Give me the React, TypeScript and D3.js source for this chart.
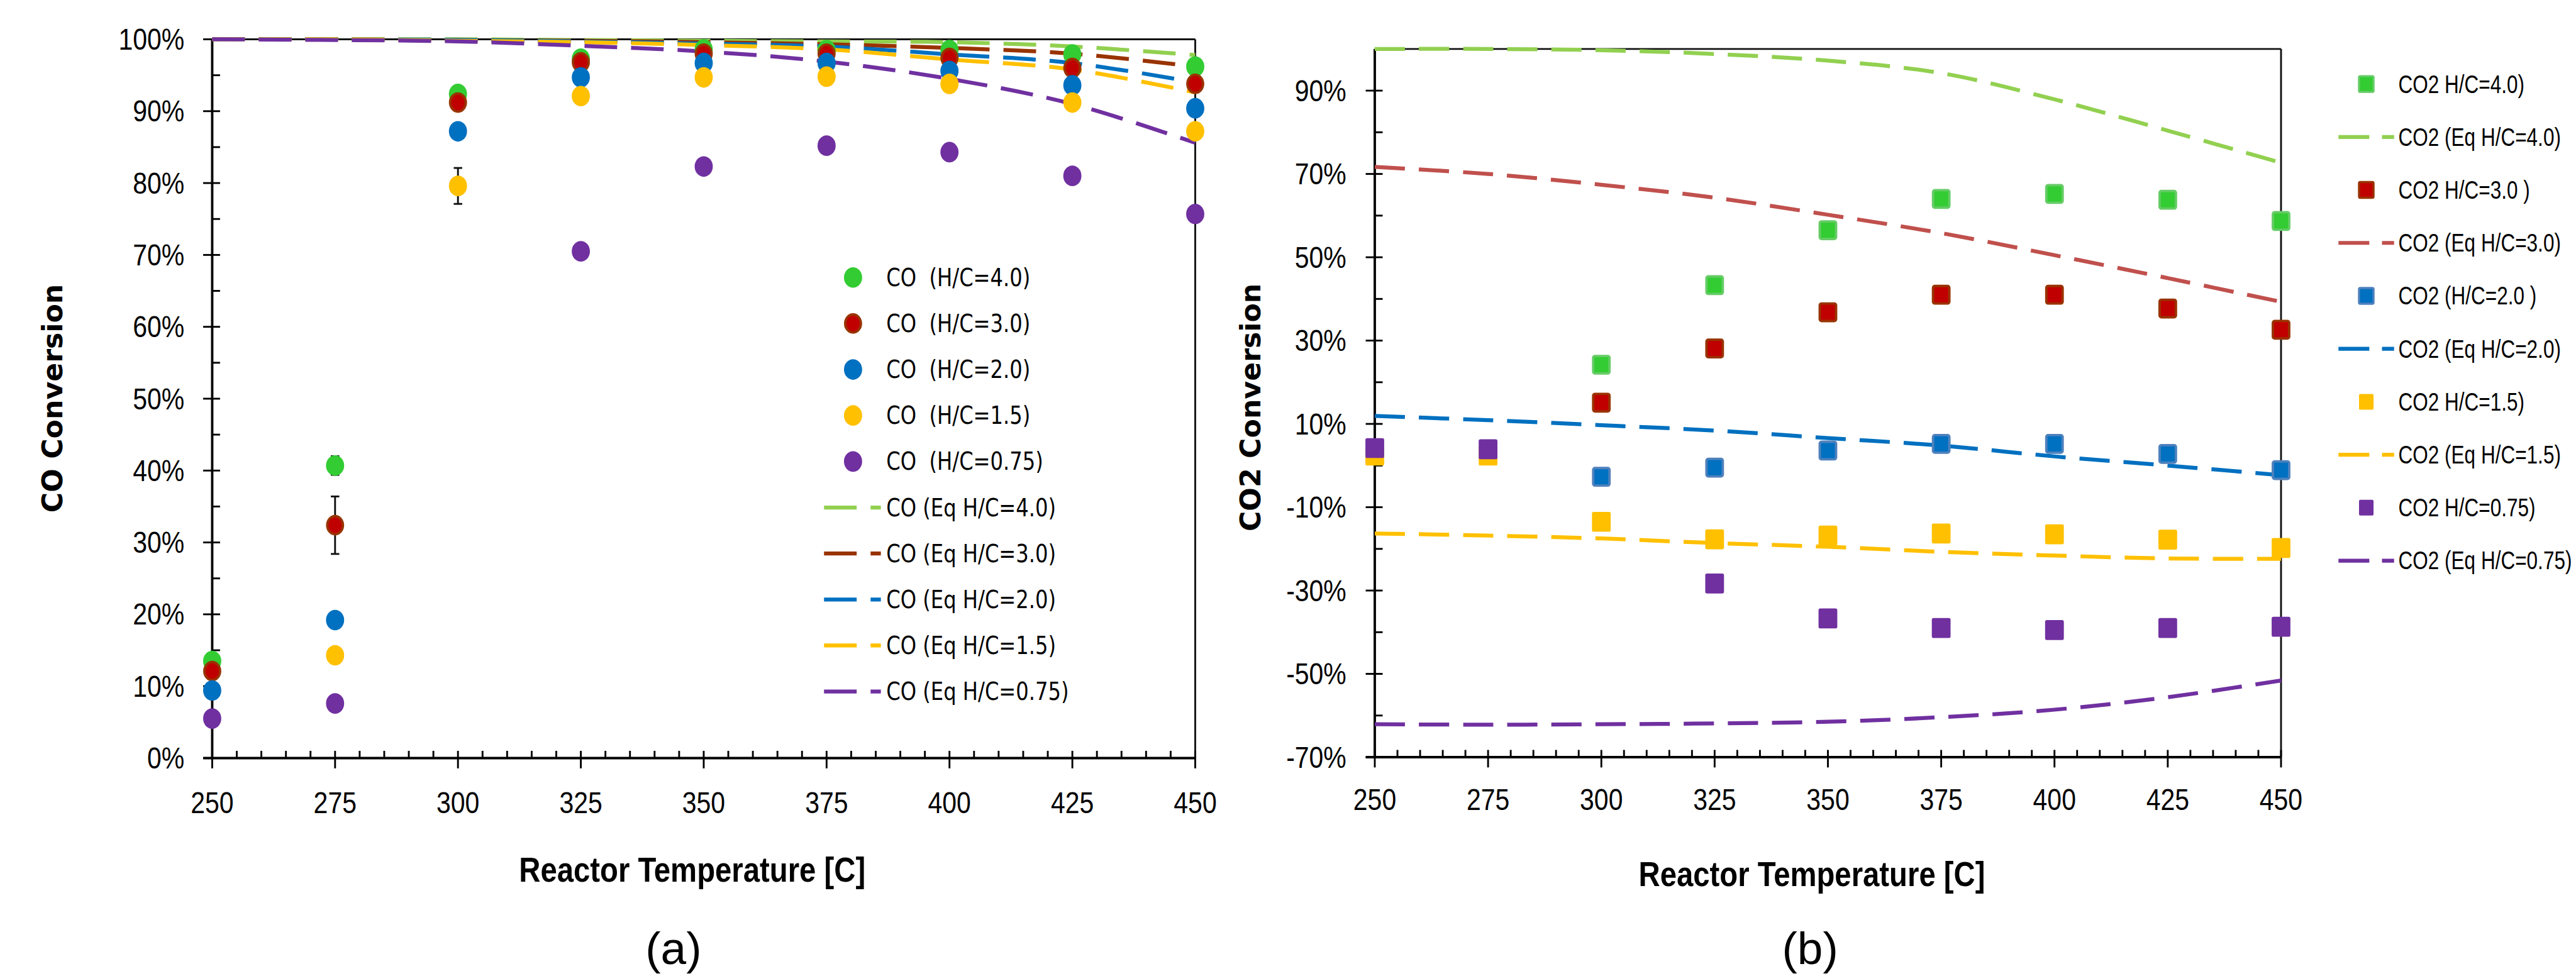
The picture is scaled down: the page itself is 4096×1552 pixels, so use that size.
import React from "react";
import * as d3 from "d3";

// reactor temperatures (x axis, both panels)
const temps = [250, 275, 300, 325, 350, 375, 400, 425, 450];

// (a) CO conversion, measured [%]
const coHC40 = [13.5, 40.7, 92.4, 97.3, 98.6, 98.5, 98.5, 97.9, 96.2];
const coHC30 = [12.1, 32.4, 91.2, 96.8, 98.0, 98.0, 97.4, 96.0, 93.8];
const coHC20 = [9.4, 19.2, 87.2, 94.7, 96.7, 96.7, 95.6, 93.6, 90.4];
const coHC15 = [null, 14.3, 79.6, 92.1, 94.7, 94.8, 93.8, 91.2, 87.2];
const coHC075 = [5.5, 7.6, null, 70.5, 82.3, 85.2, 84.3, 81.0, 75.7];

// error bars (+/-) for the measured CO points
const coErr40 = [0, 1.3, 0, 0.4, 0, 0, 0, 0, 0];
const coErr30 = [0, 4.0, 0, 0, 0, 0, 0, 0, 0];
const coErr20 = [0, 0, 0, 0, 0, 0, 0, 0, 0];
const coErr15 = [0, 0, 2.5, 0, 0, 0, 0, 0, 0];
const coErr075 = [0, 0, 0, 0.9, 0, 0, 0, 0, 0];

// (a) CO conversion, equilibrium [%]
const coEq40 = [100, 100, 100, 99.9, 99.8, 99.7, 99.6, 99.0, 97.8];
const coEq30 = [100, 100, 99.9, 99.8, 99.6, 99.3, 98.8, 98.0, 96.2];
const coEq20 = [100, 100, 99.9, 99.7, 99.4, 99.0, 97.9, 96.7, 94.0];
const coEq15 = [100, 100, 99.8, 99.6, 99.2, 98.6, 97.2, 95.8, 92.6];
const coEq075 = [100, 99.9, 99.7, 99.1, 98.3, 96.9, 94.5, 91.0, 85.6];

// (b) CO2 conversion, measured [%]
const co2HC40 = [null, null, 24.2, 43.3, 56.5, 64.0, 65.2, 63.8, 58.7];
const co2HC30 = [null, null, 15.1, 28.1, 36.8, 41.0, 41.0, 37.7, 32.6];
const co2HC20 = [null, null, -2.7, -0.5, 3.6, 5.2, 5.2, 2.8, -1.1];
const co2HC15 = [2.4, 2.4, -13.5, -17.7, -16.8, -16.3, -16.5, -17.8, -19.8];
const co2HC075 = [4.2, 3.9, null, -28.3, -36.7, -39.0, -39.5, -39.0, -38.7];

// (b) CO2 conversion, equilibrium [%]
const co2Eq40 = [100, 100, 99.7, 98.8, 97.2, 94.2, 87.9, 80.4, 72.7];
const co2Eq30 = [71.7, 70.0, 67.4, 64.3, 60.2, 55.8, 50.5, 45.0, 39.3];
const co2Eq20 = [11.9, 10.9, 9.7, 8.4, 6.6, 4.8, 2.2, 0.0, -2.3];
const co2Eq15 = [-16.3, -16.8, -17.5, -18.6, -19.5, -20.7, -21.6, -22.3, -22.4];
const co2Eq075 = [-62.1, -62.2, -62.1, -61.9, -61.5, -60.4, -58.6, -55.6, -51.6];

const coLabels = ["CO  (H/C=4.0)", "CO  (H/C=3.0)", "CO  (H/C=2.0)", "CO  (H/C=1.5)", "CO  (H/C=0.75)"];
const coEqLabels = ["CO (Eq H/C=4.0)", "CO (Eq H/C=3.0)", "CO (Eq H/C=2.0)", "CO (Eq H/C=1.5)", "CO (Eq H/C=0.75)"];
const co2Labels = ["CO2 H/C=4.0)", "CO2 H/C=3.0 )", "CO2 (H/C=2.0 )", "CO2 H/C=1.5)", "CO2 H/C=0.75)"];
const co2EqLabels = ["CO2 (Eq H/C=4.0)", "CO2 (Eq H/C=3.0)", "CO2 (Eq H/C=2.0)", "CO2 (Eq H/C=1.5)", "CO2 (Eq H/C=0.75)"];

const S = 0.9613; // everything below is laid out in reference pixels
// no narrow font installed: squeeze Liberation Sans horizontally instead
const SANS = "'Liberation Sans', Arial, sans-serif";
const NX = 0.82;
const WIDE = "'DejaVu Sans', Verdana, sans-serif";
const EQW = 6.5;

const markFill = ["#33CC33", "#C00000", "#0070C0", "#FFC000", "#7030A0"];
const markStrokeA = [null, "#993300", null, null, null];
const markStrokeB = ["#66CC66", "#993300", "#4F81BD", null, null];
const eqColA = ["#92D050", "#993300", "#0070C0", "#FFC000", "#7030A0"];
const eqColB = ["#92D050", "#C0504D", "#0070C0", "#FFC000", "#7030A0"];

const Txt = ({ x, y, size, family, weight = "normal", anchor = "middle", sx = 1, sy = 1, rot = 0, children }: any) => (
  <text
    transform={`translate(${x},${y}) rotate(${rot}) scale(${sx},${sy})`}
    fontSize={size}
    fontFamily={family}
    fontWeight={weight}
    textAnchor={anchor}
    dominantBaseline="central"
    fill="#000"
    style={{ whiteSpace: "pre" }}
  >
    {children}
  </text>
);

const Axes = ({ x, y, yMajor, yMinor, xMajor, xMinor, labelRight, xLabelY }: any) => {
  const [x0, x1] = x.range();
  const [yb, yt] = y.range();
  return (
    <g>
      <line x1={x0} x2={x1} y1={yt} y2={yt} stroke="#111" strokeWidth={3} />
      <line x1={x1} x2={x1} y1={yt} y2={yb} stroke="#111" strokeWidth={3} />
      <line x1={x0} x2={x0} y1={yt} y2={yb + 2} stroke="#000" strokeWidth={4} />
      <line x1={x0 - 15} x2={x1} y1={yb} y2={yb} stroke="#000" strokeWidth={4} />
      {yMajor.map((v: number) => (
        <g key={"ym" + v}>
          <line x1={x0 - 15} x2={x0 + 13} y1={y(v)} y2={y(v)} stroke="#000" strokeWidth={3} />
          <Txt x={labelRight} y={y(v)} size={52} family={SANS} anchor="end" sx={NX} sy={0.95}>{`${v}%`}</Txt>
        </g>
      ))}
      {yMinor.map((v: number) => (
        <line key={"yn" + v} x1={x0} x2={x0 + 13} y1={y(v)} y2={y(v)} stroke="#000" strokeWidth={3} />
      ))}
      {xMajor.map((v: number) => (
        <g key={"xm" + v}>
          <line x1={x(v)} x2={x(v)} y1={yb - 12} y2={yb + 17} stroke="#000" strokeWidth={3} />
          <Txt x={x(v)} y={xLabelY} size={52} family={SANS} sx={NX} sy={0.95}>{v}</Txt>
        </g>
      ))}
      {xMinor.map((v: number) => (
        <line key={"xn" + v} x1={x(v)} x2={x(v)} y1={yb - 12} y2={yb} stroke="#000" strokeWidth={3} />
      ))}
    </g>
  );
};

const eqPath = (x: any, y: any, vals: number[]) =>
  d3
    .line<number>()
    .x((_, i) => x(temps[i]))
    .y((d) => y(d))
    .curve(d3.curveCatmullRom.alpha(0.5))(vals) || "";

const PanelA = () => {
  const x = d3.scaleLinear().domain([250, 450]).range([351, 1977]);
  const y = d3.scaleLinear().domain([0, 100]).range([1254, 65]);
  const pts = [coHC40, coHC30, coHC20, coHC15, coHC075];
  const errs = [coErr40, coErr30, coErr20, coErr15, coErr075];
  const eqs = [coEq40, coEq30, coEq20, coEq15, coEq075];
  const legY = d3.range(10).map((i) => 459 + i * 76.1);
  return (
    <g>
      <Axes
        x={x}
        y={y}
        yMajor={d3.range(0, 101, 10)}
        yMinor={d3.range(5, 100, 10)}
        xMajor={temps}
        xMinor={d3.range(250, 451, 5).filter((t) => t % 25 !== 0)}
        labelRight={305}
        xLabelY={1328}
      />
      {eqs.map((vals, k) => (
        <path key={"eq" + k} d={eqPath(x, y, vals)} fill="none" stroke={eqColA[k]} strokeWidth={EQW} strokeDasharray="54 23" />
      ))}
      {errs.map((e, k) =>
        e.map((d, i) =>
          d > 0 && pts[k][i] != null ? (
            <g key={`er${k}-${i}`} stroke="#111" strokeWidth={3}>
              <line x1={x(temps[i])} x2={x(temps[i])} y1={y(pts[k][i]! + d)} y2={y(pts[k][i]! - d)} />
              <line x1={x(temps[i]) - 7} x2={x(temps[i]) + 7} y1={y(pts[k][i]! + d)} y2={y(pts[k][i]! + d)} />
              <line x1={x(temps[i]) - 7} x2={x(temps[i]) + 7} y1={y(pts[k][i]! - d)} y2={y(pts[k][i]! - d)} />
            </g>
          ) : null
        )
      )}
      {pts.map((vals, k) =>
        vals.map((v, i) =>
          v == null ? null : (
            <ellipse
              key={`p${k}-${i}`}
              cx={x(temps[i])}
              cy={y(v)}
              rx={markStrokeA[k] ? 13 : 15}
              ry={markStrokeA[k] ? 15 : 17}
              fill={markFill[k]}
              stroke={markStrokeA[k] || "none"}
              strokeWidth={4}
            />
          )
        )
      )}
      {coLabels.map((lab, k) => (
        <g key={"lg" + k}>
          <ellipse cx={1411} cy={legY[k]} rx={markStrokeA[k] ? 13 : 15} ry={markStrokeA[k] ? 15 : 17} fill={markFill[k]} stroke={markStrokeA[k] || "none"} strokeWidth={4} />
          <Txt x={1466} y={legY[k]} size={33.5} family={WIDE} anchor="start" sy={1.2}>{lab}</Txt>
        </g>
      ))}
      {coEqLabels.map((lab, k) => (
        <g key={"le" + k}>
          <line x1={1363} x2={1457} y1={legY[k + 5]} y2={legY[k + 5]} stroke={eqColA[k]} strokeWidth={EQW} strokeDasharray="54 23" />
          <Txt x={1466} y={legY[k + 5]} size={33.5} family={WIDE} anchor="start" sy={1.2}>{lab}</Txt>
        </g>
      ))}
      <Txt x={87} y={659} size={46} family={WIDE} weight="bold" rot={-90}>CO Conversion</Txt>
      <Txt x={1145} y={1439} size={60} family={SANS} weight="bold" sx={NX} sy={0.95}>Reactor Temperature [C]</Txt>
      <Txt x={1114} y={1568} size={76} family={SANS}>(a)</Txt>
    </g>
  );
};

const PanelB = () => {
  const x = d3.scaleLinear().domain([250, 450]).range([2274, 3773]);
  const y = d3.scaleLinear().domain([-70, 100]).range([1252.5, 81]);
  const pts = [co2HC40, co2HC30, co2HC20, co2HC15, co2HC075];
  const eqs = [co2Eq40, co2Eq30, co2Eq20, co2Eq15, co2Eq075];
  const legY = d3.range(10).map((i) => 139 + i * 87.6);
  return (
    <g>
      <Axes
        x={x}
        y={y}
        yMajor={d3.range(-70, 91, 20)}
        yMinor={d3.range(-60, 81, 20)}
        xMajor={temps}
        xMinor={d3.range(250, 451, 5).filter((t) => t % 25 !== 0)}
        labelRight={2227}
        xLabelY={1323}
      />
      {eqs.map((vals, k) => (
        <path key={"eq" + k} d={eqPath(x, y, vals)} fill="none" stroke={eqColB[k]} strokeWidth={EQW} strokeDasharray="50 23" />
      ))}
      {pts.map((vals, k) =>
        vals.map((v, i) =>
          v == null ? null : (
            <rect
              key={`s${k}-${i}`}
              x={x(temps[i]) - (markStrokeB[k] ? 13.5 : 15.5)}
              y={y(v) - (markStrokeB[k] ? 14.5 : 16.5)}
              width={markStrokeB[k] ? 27 : 31}
              height={markStrokeB[k] ? 29 : 33}
              rx={3}
              fill={markFill[k]}
              stroke={markStrokeB[k] || "none"}
              strokeWidth={4}
            />
          )
        )
      )}
      {co2Labels.map((lab, k) => (
        <g key={"lg" + k}>
          <rect x={3914 - 12} y={legY[2 * k] - 13} width={24} height={26} rx={2} fill={markFill[k]} stroke={markStrokeB[k] || "none"} strokeWidth={3.5} />
          <Txt x={3967} y={legY[2 * k]} size={40} family={SANS} anchor="start" sx={NX} sy={1.05}>{lab}</Txt>
        </g>
      ))}
      {co2EqLabels.map((lab, k) => (
        <g key={"le" + k}>
          <line x1={3868} x2={3960} y1={legY[2 * k + 1]} y2={legY[2 * k + 1]} stroke={eqColB[k]} strokeWidth={EQW} strokeDasharray="51 21" />
          <Txt x={3967} y={legY[2 * k + 1]} size={40} family={SANS} anchor="start" sx={NX} sy={1.05}>{lab}</Txt>
        </g>
      ))}
      <Txt x={2069} y={674} size={46} family={WIDE} weight="bold" rot={-90}>CO2 Conversion</Txt>
      <Txt x={2997} y={1446} size={60} family={SANS} weight="bold" sx={NX} sy={0.95}>Reactor Temperature [C]</Txt>
      <Txt x={2994} y={1568} size={76} family={SANS}>(b)</Txt>
    </g>
  );
};

export default function App() {
  return (
    <svg width={4096} height={1552} style={{ position: "absolute", left: 0, top: 0, background: "#fff" }}>
      <rect width={4096} height={1552} fill="#fff" />
      <g transform={`scale(${S})`}>
        <PanelA />
        <PanelB />
      </g>
    </svg>
  );
}
